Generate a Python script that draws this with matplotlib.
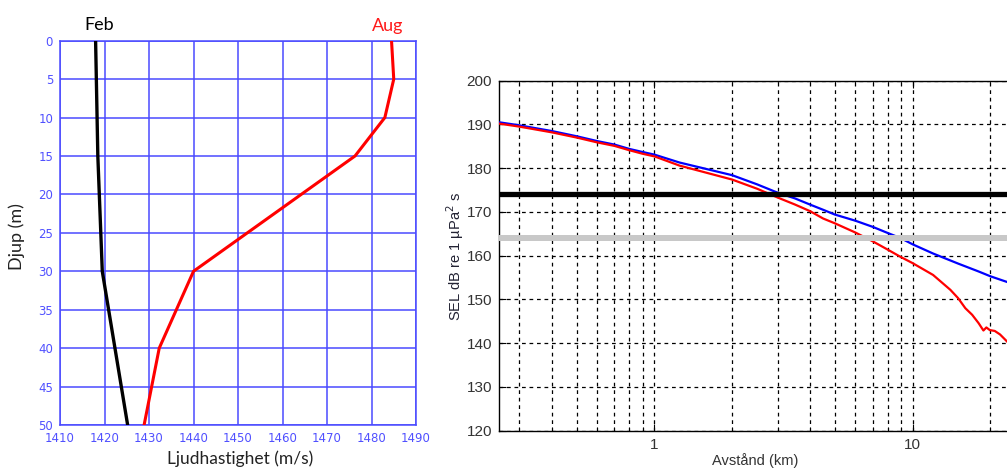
import matplotlib
matplotlib.use("Agg")
import matplotlib.pyplot as plt
import matplotlib.ticker as mticker

# ---- Left panel data: sound speed profiles ----
feb_depth = [0, 15, 30, 50]
feb_speed = [1418.0, 1418.5, 1419.5, 1425.2]
aug_depth = [0, 5, 10, 15, 30, 40, 50]
aug_speed = [1484.5, 1485.0, 1483.0, 1476.3, 1440.0, 1432.3, 1428.9]
depth_ticks = list(range(0, 55, 5))
speed_ticks = list(range(1410, 1500, 10))

# ---- Right panel data: SEL vs distance ----
dist_blue = [0.25, 0.3, 0.4, 0.5, 0.6, 0.7, 0.8, 0.9, 1.0, 1.25, 2, 2.5, 3, 3.5,
             4, 4.5, 5, 6, 7, 8, 9, 10, 12, 15, 18, 20, 23.2]
sel_blue = [190.5, 189.8, 188.5, 187.3, 186.2, 185.4, 184.4, 183.7, 183.1, 181.3,
            178.4, 176.3, 174.4, 173.1, 171.7, 170.5, 169.4, 168.0, 166.6, 165.2,
            164.0, 162.6, 160.5, 158.2, 156.4, 155.3, 154.0]
dist_red = [0.25, 0.3, 0.4, 0.5, 0.6, 0.7, 0.8, 0.9, 1.0, 1.25, 2, 2.5, 3, 3.5,
            4, 4.5, 5, 6, 7, 8, 9, 10, 12, 14, 15, 16, 17, 18, 18.8, 19.3, 19.9,
            20.8, 21.8, 23.2]
sel_red = [190.2, 189.5, 188.2, 187.0, 185.9, 185.1, 184.1, 183.3, 182.7, 180.6,
           177.4, 175.3, 173.3, 171.7, 170.2, 168.5, 167.4, 165.3, 163.3, 161.4,
           159.7, 158.3, 155.6, 152.2, 150.3, 148.0, 146.5, 144.6, 142.9, 143.6,
           143.0, 142.8, 142.0, 140.4]
threshold_black = 174
threshold_grey = 164
sel_ticks = list(range(120, 210, 10))

W, H = 1007, 470
fig = plt.figure(figsize=(W / 100, H / 100), dpi=100)
fig.patch.set_facecolor("white")

# ================= Left panel =================
axL = fig.add_axes([60 / W, (H - 425) / H, 356 / W, 384.3 / H])
gridc = "#4a4aff"
axL.plot(feb_speed, feb_depth, color="black", lw=2.4, zorder=3)
axL.plot(aug_speed, aug_depth, color="#ff0000", lw=2.2, zorder=3)
axL.set_xlim(1410, 1490)
axL.set_ylim(50, 0)
axL.set_xticks(speed_ticks)
axL.set_yticks(depth_ticks)
axL.grid(True, color=gridc, lw=1.1)
axL.set_axisbelow(True)
for s in axL.spines.values():
    s.set_color(gridc)
    s.set_linewidth(1.1)
axL.tick_params(length=0, labelcolor="#5050ff", labelsize=8.5, pad=5)
for lab in axL.get_xticklabels() + axL.get_yticklabels():
    lab.set_family("DejaVu Sans")

fam_c = ["Lato", "DejaVu Sans"]
fig.text(99 / W, 1 - 25 / H, "Feb", color="black", fontsize=13, family=fam_c,
         ha="center", va="center")
fig.text(388 / W, 1 - 26 / H, "Aug", color="#ff1a1a", fontsize=13, family=fam_c,
         ha="center", va="center")
fig.text(17 / W, 1 - 237 / H, "Djup (m)", color="#222222", fontsize=13,
         family=fam_c, rotation=90, ha="center", va="center")
fig.text(240 / W, 1 - 459 / H, "Ljudhastighet (m/s)", color="#222222",
         fontsize=12.5, family=fam_c, ha="center", va="center")

# ================= Right panel =================
axR = fig.add_axes([499 / W, (H - 430.7) / H, (W - 499) / W, 350 / H])
axR.plot(dist_blue, sel_blue, color="#0000ff", lw=1.6, zorder=3)
axR.plot(dist_red, sel_red, color="#ff0000", lw=1.6, zorder=3)
axR.axhline(threshold_grey, color="#c8c8c8", lw=4.3, zorder=4)
axR.axhline(threshold_black, color="black", lw=3.8, zorder=5)
axR.set_xscale("log")
axR.set_xlim(0.25, 23.2)
axR.set_ylim(120, 200)
axR.set_yticks(sel_ticks)
axR.xaxis.set_major_locator(mticker.FixedLocator([1, 10]))
axR.xaxis.set_major_formatter(mticker.FixedFormatter(["1", "10"]))
axR.xaxis.set_minor_locator(mticker.FixedLocator(
    [0.3, 0.4, 0.5, 0.6, 0.7, 0.8, 0.9, 2, 3, 4, 5, 6, 7, 8, 9, 20]))
axR.xaxis.set_minor_formatter(mticker.NullFormatter())
axR.grid(True, which="both", color="black", lw=0.9, ls=(0, (3, 3)))
axR.spines["right"].set_visible(False)
for s in ["left", "top", "bottom"]:
    axR.spines[s].set_linewidth(1.0)
axR.tick_params(which="both", direction="in", top=True, right=False,
                labelsize=11, labelcolor="#333333", pad=5)
axR.tick_params(which="major", length=5)
axR.tick_params(which="minor", length=3)
for lab in axR.get_xticklabels() + axR.get_yticklabels():
    lab.set_family("Liberation Sans")

fig.text(455 / W, 1 - 256 / H, "SEL dB re 1 µPa$^2$ s", color="#222233",
         fontsize=10.5, family="Liberation Sans", rotation=90,
         ha="center", va="center")
fig.text(755 / W, 1 - 461 / H, "Avstånd (km)", color="#333333",
         fontsize=10.5, family="Liberation Sans", ha="center", va="center")

fig.savefig("out.png", dpi=100, facecolor="white")
